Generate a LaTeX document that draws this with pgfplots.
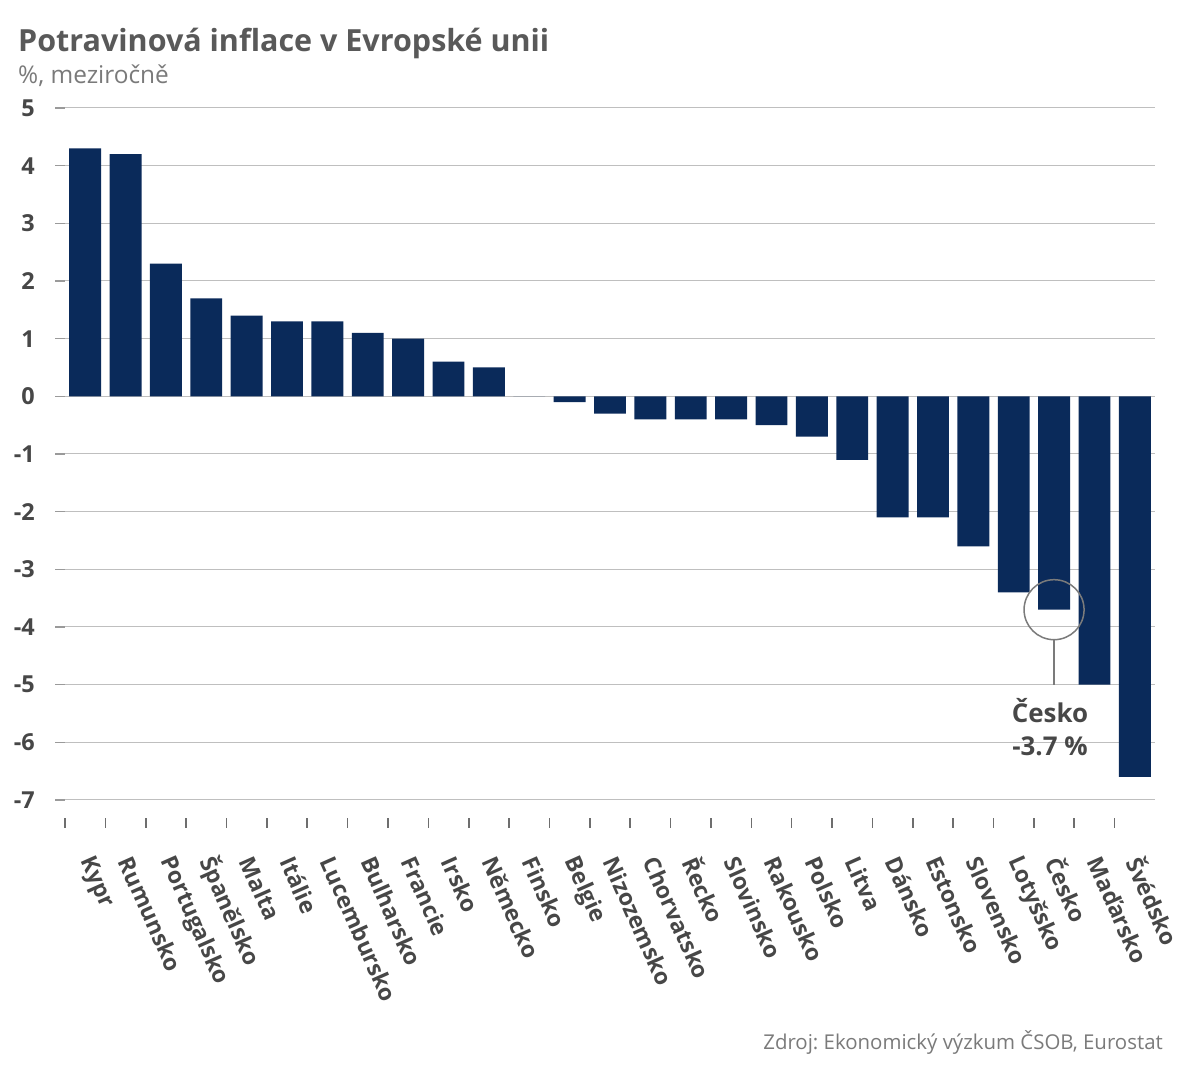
\documentclass[border=0pt]{standalone}
\usepackage{pgfplots}
\pgfplotsset{compat=1.18}
\usepackage{pgfplotstable}
\usepackage{fontspec}
\setmainfont{Open Sans}
\frenchspacing
\definecolor{navy}{HTML}{0A2A5A}
\definecolor{lab}{HTML}{474747}
\definecolor{ttl}{HTML}{595959}
\definecolor{sub}{HTML}{7A7A7A}
\definecolor{grid}{HTML}{E4E4E4}
\definecolor{tk}{HTML}{9A9A9A}
\definecolor{xtk}{HTML}{6E6E6E}
\pgfplotstableread{
x y
0 4.3
1 4.2
2 2.3
3 1.7
4 1.4
5 1.3
6 1.3
7 1.1
8 1.0
9 0.6
10 0.5
11 0.0
12 -0.1
13 -0.3
14 -0.4
15 -0.4
16 -0.4
17 -0.5
18 -0.7
19 -1.1
20 -2.1
21 -2.1
22 -2.6
23 -3.4
24 -3.7
25 -5.0
26 -6.6
}\datatab
\begin{document}
\begin{tikzpicture}[x=1bp,y=1bp]
\path (0,0) rectangle (1190,1080);
\begin{axis}[
  at={(65bp,280bp)}, anchor=south west,
  scale only axis, width=1090bp, height=692bp,
  xmin=-0.5, xmax=26.5, ymin=-7, ymax=5,
  axis x line=bottom, axis y line=left,
  axis line style={-, draw=none},
  ytick={-7,-6,...,5},
  yticklabels={-7,-6,-5,-4,-3,-2,-1,0,1,2,3,4,5},
  ymajorgrids, grid style={grid, line width=1bp},
  tick align=outside,
  major tick length=10bp,
  minor tick length=10bp,
  y tick style={tk, line width=1.2bp},
  xtick={0,...,26},
  xticklabels={Kypr,Rumunsko,Portugalsko,Španělsko,Malta,Itálie,Lucembursko,Bulharsko,Francie,Irsko,Německo,Finsko,Belgie,Nizozemsko,Chorvatsko,Řecko,Slovinsko,Rakousko,Polsko,Litva,Dánsko,Estonsko,Slovensko,Lotyšsko,Česko,Maďarsko,Švédsko},
  major x tick style={draw=none},
  minor xtick={-0.5,0.5,...,25.5},
  minor x tick style={xtk, line width=1.6bp, yshift=-18bp},
  xmajorgrids=false, xminorgrids=false,
  yticklabel style={font=\fontsize{23.5}{26}\selectfont\bfseries, text=lab, anchor=east, inner sep=0pt, xshift=-20bp},
  xticklabel style={font=\fontsize{23}{26}\selectfont\bfseries, text=lab, inner sep=0pt, yshift=-48bp, rotate=-66, anchor=west},
]
\addplot[ybar, fill=navy, draw=none, bar width=0.79] table[x=x, y=y] {\datatab};
\draw[tk!80!black, line width=1.5bp] (axis cs:24,-3.7) circle[radius=30bp];
\draw[tk!80!black, line width=1.5bp] ([yshift=-30bp]axis cs:24,-3.7) -- (axis cs:24,-5);
\node[anchor=north, align=center, font=\fontsize{26}{33}\selectfont\bfseries, text=lab, inner sep=0pt, yshift=-14bp] at (axis cs:23.9,-5) {Česko\\-3.7 \%};
\end{axis}
\node[anchor=base west, inner sep=0pt, font=\fontsize{30.6}{35}\selectfont\bfseries, text=ttl] at (18,1028) {Potravinová inflace v Evropské unii};
\node[anchor=base west, inner sep=0pt, font=\fontsize{24.5}{29}\selectfont, text=sub] at (18,996) {\%, meziročně};
\node[anchor=base east, inner sep=0pt, font=\fontsize{20.5}{25}\selectfont, text=sub] at (1163,30) {Zdroj: Ekonomický výzkum ČSOB, Eurostat};
\end{tikzpicture}
\end{document}
